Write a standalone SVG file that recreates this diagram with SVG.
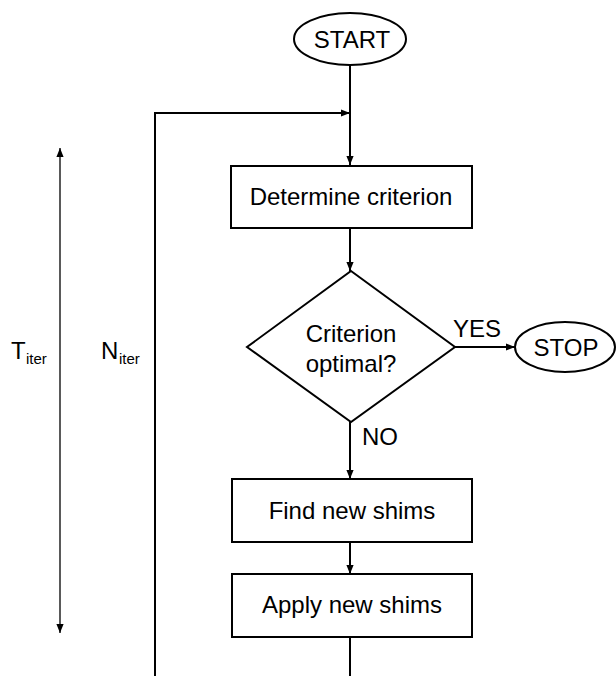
<svg xmlns="http://www.w3.org/2000/svg" width="616" height="676" viewBox="0 0 616 676">
<defs>
<marker id="ah" viewBox="0 0 10 10" refX="10" refY="5" markerWidth="9" markerHeight="9" markerUnits="userSpaceOnUse" orient="auto">
<path d="M0,1 L10,5 L0,9 Z" fill="#000"/>
</marker>
<marker id="ahs" viewBox="0 0 10 10" refX="0" refY="5" markerWidth="9" markerHeight="9" markerUnits="userSpaceOnUse" orient="auto">
<path d="M10,1 L0,5 L10,9 Z" fill="#000"/>
</marker>
</defs>
<style>
.s{fill:#fff;stroke:#000;stroke-width:2}
.c{fill:none;stroke:#000;stroke-width:2}
.t{font-family:"Liberation Sans",Arial,sans-serif;font-size:24px;fill:#000;text-anchor:middle}
.l{font-family:"Liberation Sans",Arial,sans-serif;font-size:24px;fill:#000}
.sub{font-family:"Liberation Sans",Arial,sans-serif;font-size:15px;fill:#000}
</style>
<rect width="616" height="676" fill="#fff"/>
<g id="connectors">
<line class="c" x1="350" y1="65" x2="350" y2="165" marker-end="url(#ah)"/>
<polyline class="c" points="155,676 155,113 350,113" marker-end="url(#ah)"/>
<line class="c" x1="350" y1="228" x2="350" y2="271" marker-end="url(#ah)"/>
<line class="c" x1="455" y1="347" x2="515" y2="347" marker-end="url(#ah)"/>
<line class="c" x1="350" y1="422" x2="350" y2="479" marker-end="url(#ah)"/>
<line class="c" x1="350" y1="542" x2="350" y2="574" marker-end="url(#ah)"/>
<line class="c" x1="350" y1="637" x2="350" y2="676"/>
<line x1="60" y1="148" x2="60" y2="633" stroke="#000" stroke-width="1.3" marker-start="url(#ahs)" marker-end="url(#ah)"/>
<text class="l" x="453" y="337">YES</text>
<text class="l" x="362" y="445">NO</text>
</g>
<g id="start">
<ellipse class="s" cx="350" cy="39" rx="56" ry="26"/>
<text class="t" x="352" y="48">START</text>
</g>
<g id="determine">
<rect class="s" x="231" y="166" width="241" height="62"/>
<text class="t" x="351" y="205">Determine criterion</text>
</g>
<g id="decision">
<polygon class="s" points="351,271 455,347 351,422 247,347"/>
<text class="t" x="351" y="342">Criterion</text>
<text class="t" x="351" y="372">optimal?</text>
</g>
<g id="stop">
<ellipse class="s" cx="565" cy="347" rx="50" ry="25"/>
<text class="t" x="566" y="356">STOP</text>
</g>
<g id="find">
<rect class="s" x="232" y="479" width="240" height="63"/>
<text class="t" x="352" y="519">Find new shims</text>
</g>
<g id="apply">
<rect class="s" x="232" y="574" width="240" height="63"/>
<text class="t" x="352" y="613">Apply new shims</text>
</g>
<g id="labels">
<text class="l" x="11" y="359">T</text>
<text class="sub" x="26" y="364">iter</text>
<text class="l" x="101" y="359">N</text>
<text class="sub" x="119" y="364">iter</text>
</g>
</svg>
